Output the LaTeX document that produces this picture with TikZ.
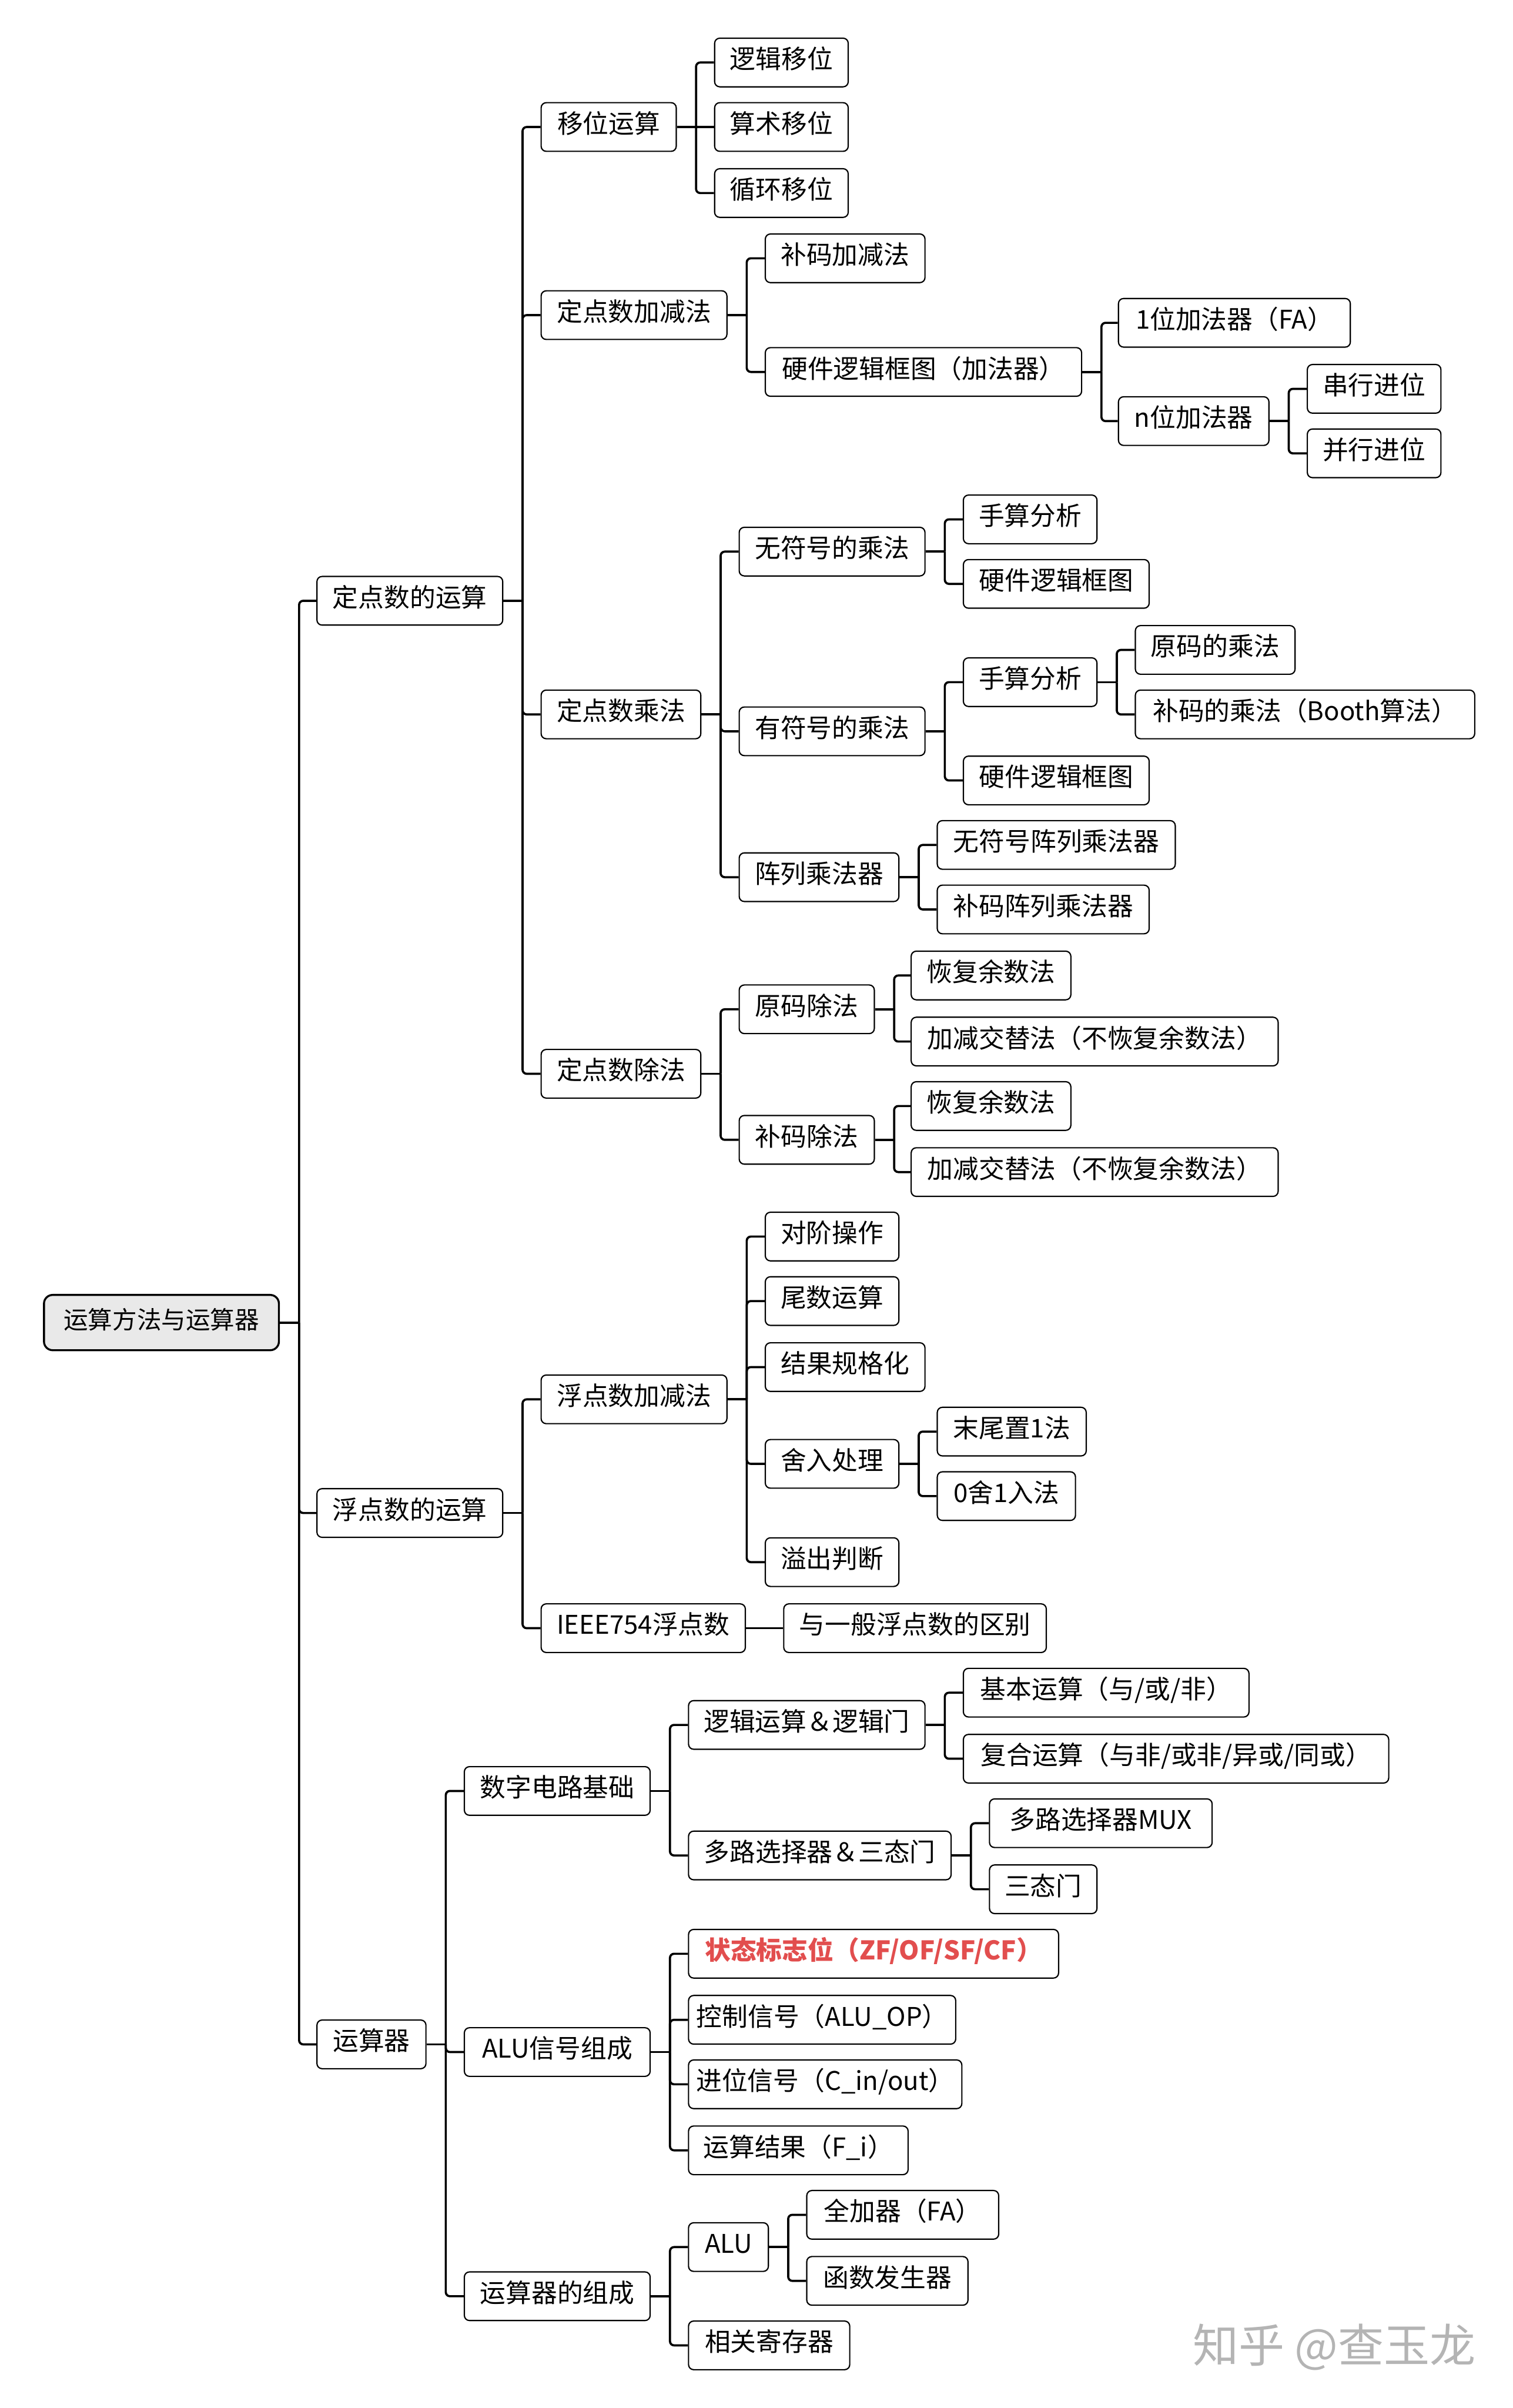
\documentclass[tikz,border=0pt]{standalone}
\usepackage{fontspec}
\setmainfont{Noto Sans CJK SC}
\usetikzlibrary{backgrounds}
\definecolor{redtxt}{RGB}{226,78,78}
\definecolor{rootfill}{RGB}{233,233,233}
\definecolor{wmgray}{RGB}{180,180,180}
\tikzset{
  box/.style={draw=black, fill=white, line width=0.7pt, rounded corners=0.1cm,
    inner xsep=0pt, inner ysep=0pt, minimum height=0.95cm, anchor=west,
    font=\fontsize{14.3}{17}\selectfont, text height=0.84em, text depth=0.16em},
  rootbox/.style={fill=rootfill, line width=1.1pt, rounded corners=0.17cm,
    minimum height=1.08cm, font=\fontsize{13.6}{16}\selectfont},
  redbox/.style={text=redtxt, font=\fontsize{14.3}{17}\selectfont\bfseries},
  conn/.style={line width=1.2pt, rounded corners=0.08cm},
  wmark/.style={text=wmgray, font=\fontsize{25.5}{28}\selectfont},
}
\newcommand\nd[6][]{\node[box,#1,minimum width={#5*0.03cm}] (#2) at (#3,#4) {#6};}
\newcommand\stub[1]{\draw[conn] (#1.east) -- ++(12.5,0) coordinate (#1t);}
\newcommand\kid[2]{\draw[conn] (#1t) |- (#2.west);}
\newcommand\kidS[2]{\draw[conn] (#1t) -- (#2.west);}
\begin{document}
\begin{tikzpicture}[x=0.03cm,y=-0.03cm]
\useasboundingbox (0,0) rectangle (985,1568);
\begin{scope}[shift={(0,1.2)}]
% root and level 1
\nd[rootbox]{root}{28}{860}{153}{运算方法与运算器}
\nd{a1}{206}{390}{121}{定点数的运算}
\nd{a2}{206}{984}{121}{浮点数的运算}
\nd{a3}{206}{1330}{71}{运算器}
% level 2
\nd{b1}{352}{81.5}{88}{移位运算}
\nd{b2}{352}{204}{121}{定点数加减法}
\nd{b3}{352}{464}{104}{定点数乘法}
\nd{b4}{352}{698}{104}{定点数除法}
\nd{b5}{352}{910}{121}{浮点数加减法}
\nd{b6}{352}{1059}{133}{IEEE754浮点数}
\nd{b7}{302}{1165}{121}{数字电路基础}
\nd{b8}{302}{1335}{121}{ALU信号组成}
\nd{b9}{302}{1494}{121}{运算器的组成}
% shift
\nd{c11}{465}{39.5}{87}{逻辑移位}
\nd{c12}{465}{81.5}{87}{算术移位}
\nd{c13}{465}{124.5}{87}{循环移位}
% add/sub
\nd{c21}{498}{167}{104}{补码加减法}
\nd{c22}{498}{241}{206}{硬件逻辑框图（加法器）}
\nd{d1}{728}{209}{151}{1位加法器（FA）}
\nd{d2}{728}{273}{98}{n位加法器}
\nd{e1}{851}{252}{87}{串行进位}
\nd{e2}{851}{294}{87}{并行进位}
% multiply
\nd{c31}{481}{358}{121}{无符号的乘法}
\nd{c32}{481}{475}{121}{有符号的乘法}
\nd{c33}{481}{570}{104}{阵列乘法器}
\nd{d31}{627}{337}{87}{手算分析}
\nd{d32}{627}{379}{121}{硬件逻辑框图}
\nd{d33}{627}{443}{87}{手算分析}
\nd{d34}{627}{507}{121}{硬件逻辑框图}
\nd{e31}{739}{422}{104}{原码的乘法}
\nd{e32}{739}{464}{221}{补码的乘法（Booth算法）}
\nd{d35}{610}{549}{155}{无符号阵列乘法器}
\nd{d36}{610}{591}{138}{补码阵列乘法器}
% divide
\nd{c41}{481}{656}{88}{原码除法}
\nd{c42}{481}{741}{88}{补码除法}
\nd{d41}{593}{634}{104}{恢复余数法}
\nd{d42}{593}{677}{239}{加减交替法（不恢复余数法）}
\nd{d43}{593}{719}{104}{恢复余数法}
\nd{d44}{593}{762}{239}{加减交替法（不恢复余数法）}
% float add/sub
\nd{c51}{498}{804}{87}{对阶操作}
\nd{c52}{498}{846}{87}{尾数运算}
\nd{c53}{498}{889}{104}{结果规格化}
\nd{c54}{498}{952}{87}{舍入处理}
\nd{c55}{498}{1016}{87}{溢出判断}
\nd{d51}{610}{931}{97}{末尾置1法}
\nd{d52}{610}{973}{90}{0舍1入法}
\nd{c61}{510}{1059}{171}{与一般浮点数的区别}
% digital circuits
\nd{c71}{448}{1122}{154}{逻辑运算＆逻辑门}
\nd{c72}{448}{1207}{171}{多路选择器＆三态门}
\nd{d71}{627}{1101}{186}{基本运算（与/或/非）}
\nd{d72}{627}{1144}{277}{复合运算（与非/或非/异或/同或）}
\nd{d73}{644}{1186}{145}{多路选择器MUX}
\nd{d74}{644}{1229}{70}{三态门}
% ALU signals
\nd[redbox]{c81}{448}{1271}{241}{状态标志位（ZF/OF/SF/CF）}
\nd{c82}{448}{1314}{174}{控制信号（ALU\_OP）}
\nd{c83}{448}{1356}{178}{进位信号（C\_in/out）}
\nd{c84}{448}{1399}{143}{运算结果（F\_i）}
% composition
\nd{c91}{448}{1462}{52}{ALU}
\nd{c92}{448}{1526}{105}{相关寄存器}
\nd{d91}{525}{1441}{125}{全加器（FA）}
\nd{d92}{525}{1484}{105}{函数发生器}
% watermark
\node[wmark] (wm) at (869,1527) {知乎 @查玉龙};
\begin{pgfonlayer}{background}
\stub{root}\kid{root}{a1}\kid{root}{a2}\kid{root}{a3}
\stub{a1}\kid{a1}{b1}\kid{a1}{b2}\kid{a1}{b3}\kid{a1}{b4}
\stub{a2}\kid{a2}{b5}\kid{a2}{b6}
\stub{a3}\kid{a3}{b7}\kid{a3}{b8}\kid{a3}{b9}
\stub{b1}\kid{b1}{c11}\kidS{b1}{c12}\kid{b1}{c13}
\stub{b2}\kid{b2}{c21}\kid{b2}{c22}
\stub{c22}\kid{c22}{d1}\kid{c22}{d2}
\stub{d2}\kid{d2}{e1}\kid{d2}{e2}
\stub{b3}\kid{b3}{c31}\kid{b3}{c32}\kid{b3}{c33}
\stub{c31}\kid{c31}{d31}\kid{c31}{d32}
\stub{c32}\kid{c32}{d33}\kid{c32}{d34}
\stub{d33}\kid{d33}{e31}\kid{d33}{e32}
\stub{c33}\kid{c33}{d35}\kid{c33}{d36}
\stub{b4}\kid{b4}{c41}\kid{b4}{c42}
\stub{c41}\kid{c41}{d41}\kid{c41}{d42}
\stub{c42}\kid{c42}{d43}\kid{c42}{d44}
\stub{b5}\kid{b5}{c51}\kid{b5}{c52}\kid{b5}{c53}\kid{b5}{c54}\kid{b5}{c55}
\stub{c54}\kid{c54}{d51}\kid{c54}{d52}
\stub{b6}\kidS{b6}{c61}
\stub{b7}\kid{b7}{c71}\kid{b7}{c72}
\stub{c71}\kid{c71}{d71}\kid{c71}{d72}
\stub{c72}\kid{c72}{d73}\kid{c72}{d74}
\stub{b8}\kid{b8}{c81}\kid{b8}{c82}\kid{b8}{c83}\kid{b8}{c84}
\stub{b9}\kid{b9}{c91}\kid{b9}{c92}
\stub{c91}\kid{c91}{d91}\kid{c91}{d92}
\end{pgfonlayer}
\end{scope}
\end{tikzpicture}
\end{document}
